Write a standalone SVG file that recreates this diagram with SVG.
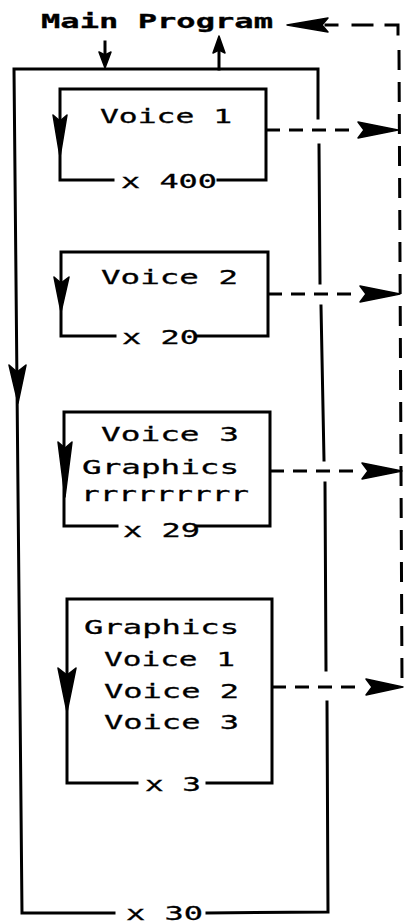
<svg xmlns="http://www.w3.org/2000/svg" width="409" height="924" viewBox="0 0 409 924">
<style>
.ln{fill:none;stroke:#000;stroke-width:3;stroke-linecap:square;stroke-linejoin:miter}
.ds{fill:none;stroke:#000;stroke-width:3;stroke-dasharray:14 9}
.vd{fill:none;stroke:#000;stroke-width:3;stroke-dasharray:20 12}
.ah{fill:#000;stroke:#000;stroke-width:1.5;stroke-linejoin:round}
text{font-family:"DejaVu Sans Mono","Liberation Mono",monospace;font-size:20px;fill:#000;stroke:#000;stroke-width:0.3}
.b{font-weight:bold}
</style>
<rect width="409" height="924" fill="#fff"/>
<g id="main-program">
<text class="b" x="41" y="28" textLength="232" lengthAdjust="spacingAndGlyphs">Main Program</text>
</g>
<g id="outer-loop">
<path class="ln" d="M105,69 L14,69 L22,913 L114,913 M207,913 L328,912 L327,702 M326,670 L325,483 M324,460 L321,306 M320,283 L319,145 M318,118 L318,69 L105,69"/>
<text x="126" y="920" textLength="77" lengthAdjust="spacingAndGlyphs">x 30</text>
</g>
<g id="voice1">
<path class="ln" d="M113,180 L60,180 L60,89 L266,89 L266,180 L218,180"/>
<text x="100" y="123" textLength="132" lengthAdjust="spacingAndGlyphs">Voice 1</text>
<text x="121" y="188" textLength="96" lengthAdjust="spacingAndGlyphs">x 400</text>
</g>
<g id="voice2">
<path class="ln" d="M115,336 L61,336 L61,252 L268,252 L268,336 L197,336"/>
<text x="101" y="284" textLength="137" lengthAdjust="spacingAndGlyphs">Voice 2</text>
<text x="122" y="344" textLength="77" lengthAdjust="spacingAndGlyphs">x 20</text>
</g>
<g id="voice3-graphics">
<path class="ln" d="M117,526 L64,526 L64,412 L270,412 L270,526 L197,526"/>
<text x="101" y="441" textLength="138" lengthAdjust="spacingAndGlyphs">Voice 3</text>
<text x="82" y="474" textLength="157" lengthAdjust="spacingAndGlyphs">Graphics</text>
<text x="81" y="501" textLength="168" lengthAdjust="spacingAndGlyphs">rrrrrrrrr</text>
<text x="123" y="537" textLength="77" lengthAdjust="spacingAndGlyphs">x 29</text>
</g>
<g id="graphics-voices">
<path class="ln" d="M137,783 L67,783 L67,599 L272,599 L272,783 L207,783"/>
<text x="84" y="634" textLength="155" lengthAdjust="spacingAndGlyphs">Graphics</text>
<text x="104" y="666" textLength="131" lengthAdjust="spacingAndGlyphs">Voice 1</text>
<text x="104" y="698" textLength="135" lengthAdjust="spacingAndGlyphs">Voice 2</text>
<text x="104" y="729" textLength="135" lengthAdjust="spacingAndGlyphs">Voice 3</text>
<text x="145" y="791" textLength="56" lengthAdjust="spacingAndGlyphs">x 3</text>
</g>
<g id="connectors">
<path class="ln" d="M105,42 V58"/>
<path class="ah" d="M105,68 L99,52 L105,55 L111,52 Z"/>
<path class="ln" d="M219,69 V48"/>
<path class="ah" d="M219,36 L213,53 L219,50 L225,53 Z"/>
<path class="ah" d="M18,403 L9,365 L17,372 L26,365 Z"/>
<path class="ah" d="M60,157 L53,115 L60,121 L67,115 Z"/>
<path class="ah" d="M61,312 L54,277 L61,283 L69,277 Z"/>
<path class="ah" d="M65,497 L58,442 L65,448 L72,442 Z"/>
<path class="ah" d="M67,712 L58,668 L67,675 L76,668 Z"/>
<path class="ds" d="M266,130 H352"/>
<path class="ah" d="M398,130 L358,122 L364,130 L358,138 Z"/>
<path class="ds" d="M268,294 H354"/>
<path class="ah" d="M400,294 L360,286 L366,294 L360,302 Z"/>
<path class="ds" d="M270,471 H356"/>
<path class="ah" d="M402,471 L362,463 L368,471 L362,479 Z"/>
<path class="ds" d="M272,687 H358"/>
<path class="ah" d="M403,687 L366,679 L372,687 L366,695 Z"/>
<path class="vd" d="M399,50 L402,682"/>
<path class="ln" d="M386,25 H398 V34"/>
<path class="ln" d="M353,25 H372"/>
<path class="ln" d="M326,25 H337"/>
<path class="ah" d="M287,25 L328,18 L322,25 L328,32 Z"/>
</g>
</svg>
